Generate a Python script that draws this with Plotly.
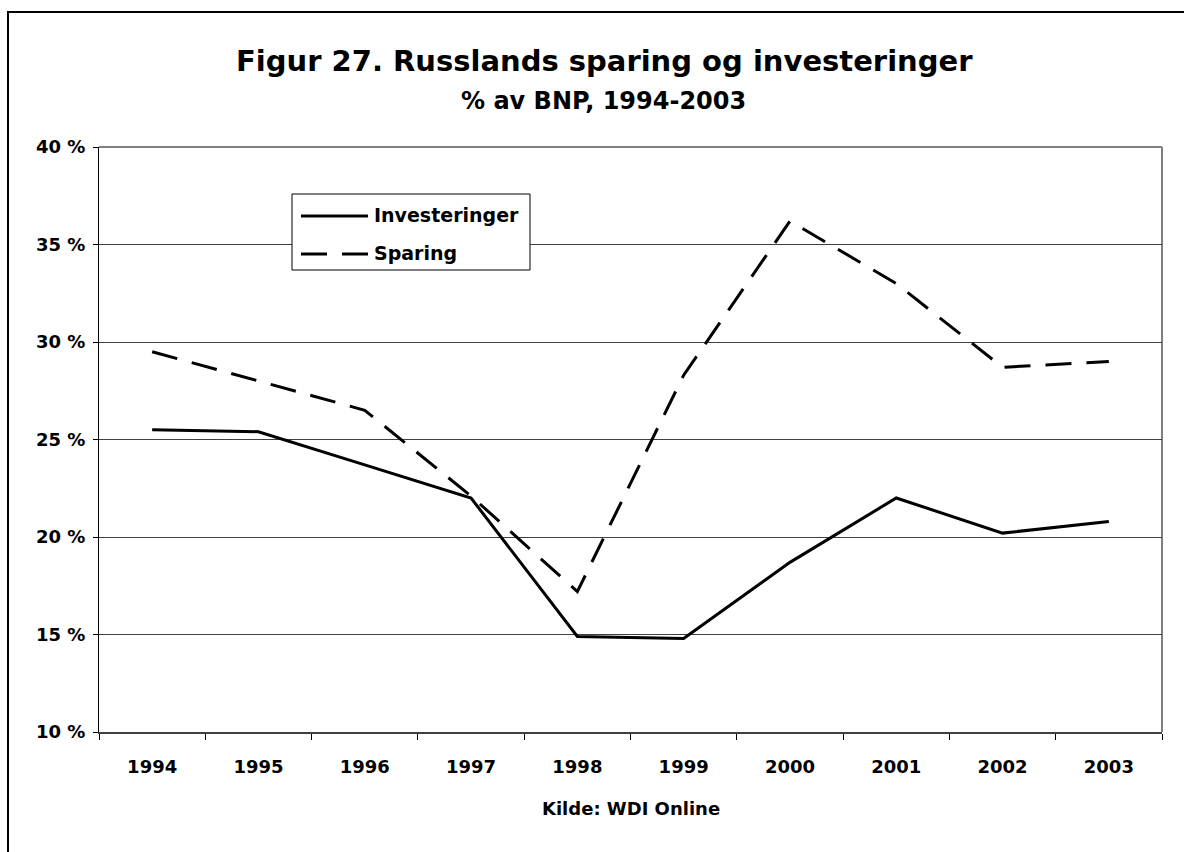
import plotly.graph_objects as go

years = ["1994", "1995", "1996", "1997", "1998", "1999", "2000", "2001", "2002", "2003"]
investeringer = [25.5, 25.4, 23.7, 22.0, 14.9, 14.8, 18.7, 22.0, 20.2, 20.8]
sparing = [29.5, 28.0, 26.5, 22.1, 17.2, 28.3, 36.2, 33.0, 28.7, 29.0]
y_ticks = [10, 15, 20, 25, 30, 35, 40]
y_tick_labels = [f"{v} %" for v in y_ticks]
series_names = ["Investeringer", "Sparing"]

FONT = "DejaVu Sans, Verdana, sans-serif"
W, H = 1184, 852
L, R, T, B = 99, 1162, 147, 732
DASH = "26px,15px"


def px_x(p):
    return (p - L) / (R - L)


def px_y(p):
    return (B - p) / (B - T)


fig = go.Figure()
fig.add_trace(go.Scatter(x=years, y=investeringer, name=series_names[0], mode="lines",
                         line=dict(color="black", width=3), showlegend=False))
fig.add_trace(go.Scatter(x=years, y=sparing, name=series_names[1], mode="lines",
                         line=dict(color="black", width=3, dash=DASH), showlegend=False))

# manual legend (box, line samples, labels)
legend_shapes = [
    dict(type="rect", xref="paper", yref="paper",
         x0=px_x(292), x1=px_x(530), y0=px_y(270), y1=px_y(194),
         line=dict(color="black", width=1), fillcolor="white", layer="above"),
    dict(type="line", xref="paper", yref="paper",
         x0=px_x(301), x1=px_x(368), y0=px_y(216), y1=px_y(216),
         line=dict(color="black", width=3), layer="above"),
    dict(type="line", xref="paper", yref="paper",
         x0=px_x(301), x1=px_x(368), y0=px_y(254), y1=px_y(254),
         line=dict(color="black", width=3, dash=DASH), layer="above"),
]
legend_annotations = [
    dict(text=f"<b>{series_names[0]}</b>", xref="paper", yref="paper",
         x=px_x(372), y=px_y(215), xanchor="left", yanchor="middle", showarrow=False,
         font=dict(family=FONT, size=19, color="black")),
    dict(text=f"<b>{series_names[1]}</b>", xref="paper", yref="paper",
         x=px_x(372), y=px_y(253), xanchor="left", yanchor="middle", showarrow=False,
         font=dict(family=FONT, size=19, color="black")),
]

fig.update_layout(
    width=W, height=H,
    margin=dict(l=L, r=W - R, t=T, b=H - B, pad=0),
    paper_bgcolor="white", plot_bgcolor="white",
    font=dict(family=FONT, color="black", size=18),
    showlegend=False,
    xaxis=dict(
        type="category", range=[-0.5, len(years) - 0.5],
        showgrid=False, ticks="outside", tickson="boundaries",
        ticklen=6, tickcolor="black", tickwidth=1,
        showline=True, linecolor="#404040", linewidth=2,
        tickvals=years, ticktext=[f"<b>{y}</b>" for y in years],
        tickfont=dict(family=FONT, size=18, color="black"),
        ticklabelstandoff=17, fixedrange=True,
    ),
    yaxis=dict(
        range=[10, 40], tickvals=y_ticks, ticktext=[f"<b>{t}</b>" for t in y_tick_labels],
        showgrid=True, gridcolor="#404040", gridwidth=1,
        ticks="outside", ticklen=5, tickcolor="black",
        showline=True, linecolor="black", linewidth=1, zeroline=False,
        tickfont=dict(family=FONT, size=18, color="black"),
        ticklabelstandoff=4, fixedrange=True,
    ),
    annotations=[
        dict(text="<b>Figur 27. Russlands sparing og investeringer</b>", xref="paper", yref="paper",
             x=px_x(604), y=px_y(61), xanchor="center", yanchor="middle",
             showarrow=False, font=dict(family=FONT, size=29, color="black")),
        dict(text="<b>% av BNP, 1994-2003</b>", xref="paper", yref="paper",
             x=px_x(603), y=px_y(101), xanchor="center", yanchor="middle",
             showarrow=False, font=dict(family=FONT, size=24, color="black")),
        dict(text="<b>Kilde: WDI Online</b>", xref="paper", yref="paper",
             x=px_x(631), y=px_y(808), xanchor="center", yanchor="middle",
             showarrow=False, font=dict(family=FONT, size=18, color="black")),
    ] + legend_annotations,
    shapes=[
        dict(type="line", xref="paper", yref="paper",
             x0=1, x1=1, y0=0, y1=1, line=dict(color="#808080", width=2), layer="below"),
        dict(type="line", xref="paper", yref="paper",
             x0=0, x1=1, y0=1, y1=1, line=dict(color="#808080", width=2), layer="below"),
        dict(type="rect", xref="paper", yref="paper",
             x0=px_x(8), x1=px_x(1200),
             y0=px_y(880), y1=px_y(12),
             line=dict(color="black", width=2)),
    ] + legend_shapes,
)

fig.write_html("out.html", config={"displayModeBar": False},
               post_script="document.body.style.margin='0';document.body.style.overflow='hidden';")
